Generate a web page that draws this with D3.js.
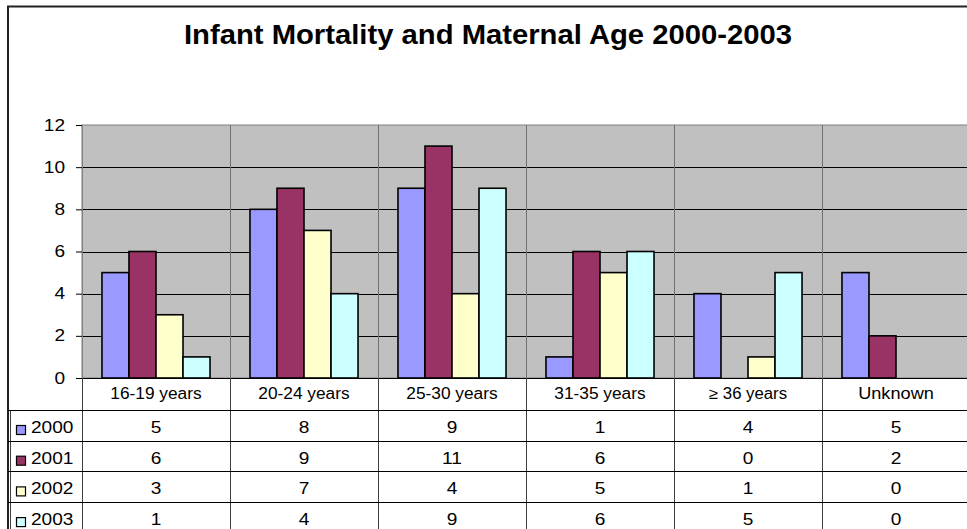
<!DOCTYPE html>
<html>
<head>
<meta charset="utf-8">
<script src="https://cdn.jsdelivr.net/npm/d3@7"></script>
<style>
  html, body { margin: 0; padding: 0; background: #fff; }
  svg { display: block; font-family: "Liberation Sans", Arial, sans-serif; }
</style>
</head>
<body>
<svg id="chart" width="967" height="529"></svg>
<script>
const title = "Infant Mortality and Maternal Age 2000-2003";
const categories = ["16-19 years", "20-24 years", "25-30 years", "31-35 years", "\u2265 36 years", "Unknown"];
const seriesNames = ["2000", "2001", "2002", "2003"];
const values2000 = [5, 8, 9, 1, 4, 5];
const values2001 = [6, 9, 11, 6, 0, 2];
const values2002 = [3, 7, 4, 5, 1, 0];
const values2003 = [1, 4, 9, 6, 5, 0];
const yTicks = [0, 2, 4, 6, 8, 10, 12];
const colors = ["#9999FF", "#993366", "#FFFFCC", "#CCFFFF"];

const seriesValues = [values2000, values2001, values2002, values2003];

const svg = d3.select("#chart");
const W = 967, H = 529;

// layout
const plotLeft = 82, plotRight = 970, plotTop = 125, plotBottom = 378;
const labelRowBottom = 410, rowH = 30.7;

// widen digits to mimic the reference's broader numerals
function widen(sel) {
  sel.each(function () {
    const t = this.textContent;
    const n = (t.match(/[0-9]/g) || []).length;
    let extra = n * 1.7;
    if (t === "Unknown") extra = 9;
    if (!extra) return;
    const L = this.getComputedTextLength();
    this.setAttribute("textLength", L + extra);
    this.setAttribute("lengthAdjust", "spacingAndGlyphs");
  });
}

svg.append("rect").attr("x", 0).attr("y", 0).attr("width", W).attr("height", H).attr("fill", "#fff");

// outer chart border
svg.append("rect")
  .attr("x", 8).attr("y", 6.5).attr("width", 980).attr("height", 560)
  .attr("fill", "none").attr("stroke", "#222").attr("stroke-width", 2);

// title
svg.append("text")
  .attr("x", 488).attr("y", 44)
  .attr("text-anchor", "middle")
  .attr("font-size", 28).attr("font-weight", "bold")
  .attr("textLength", 608).attr("lengthAdjust", "spacingAndGlyphs")
  .text(title);

const x0 = d3.scaleBand().domain(categories).range([plotLeft, plotRight]).padding(0);
const bw = x0.bandwidth();
const x1 = d3.scaleBand().domain(seriesNames).range([bw * 0.135, bw * 0.865]).padding(0);
const y = d3.scaleLinear().domain([0, 12]).range([plotBottom, plotTop]);

// plot background
svg.append("rect")
  .attr("x", plotLeft).attr("y", plotTop)
  .attr("width", plotRight - plotLeft).attr("height", plotBottom - plotTop)
  .attr("fill", "#C0C0C0").attr("stroke", "#808080").attr("stroke-width", 1);

// horizontal gridlines
svg.append("g").selectAll("line")
  .data(yTicks.filter(d => d > 0 && d < 12))
  .join("line")
  .attr("x1", plotLeft).attr("x2", plotRight)
  .attr("y1", d => Math.round(y(d)) + 0.5).attr("y2", d => Math.round(y(d)) + 0.5)
  .attr("stroke", "#000").attr("stroke-width", 1);

// vertical category dividers in plot
svg.append("g").selectAll("line")
  .data(categories.slice(1))
  .join("line")
  .attr("x1", d => Math.round(x0(d)) + 0.5).attr("x2", d => Math.round(x0(d)) + 0.5)
  .attr("y1", plotTop).attr("y2", plotBottom)
  .attr("stroke", "#707070").attr("stroke-width", 1);

// y axis
const yAxis = d3.axisLeft(y).tickValues(yTicks).tickSize(6).tickPadding(11).tickFormat(d3.format("d"));
const yg = svg.append("g").attr("transform", `translate(${plotLeft},0)`).call(yAxis);
yg.select(".domain").attr("stroke", "#808080");
yg.selectAll(".tick line").attr("stroke", "#000");
yg.selectAll(".tick text").attr("font-size", 16).attr("fill", "#000")
  .attr("font-family", "'Liberation Sans', Arial, sans-serif")
  .call(widen);

// bars
const groups = svg.append("g").selectAll("g")
  .data(categories)
  .join("g")
  .attr("transform", d => `translate(${x0(d)},0)`);

groups.selectAll("rect")
  .data((c, ci) => seriesNames.map((s, si) => ({ s, si, v: seriesValues[si][ci] })))
  .join("rect")
  .attr("x", d => x1(d.s))
  .attr("y", d => y(d.v))
  .attr("width", x1.bandwidth())
  .attr("height", d => y(0) - y(d.v))
  .attr("fill", d => colors[d.si])
  .attr("stroke", "#000").attr("stroke-width", 1.6);

// zero axis line
svg.append("line")
  .attr("x1", plotLeft - 6).attr("x2", plotRight)
  .attr("y1", plotBottom + 0.5).attr("y2", plotBottom + 0.5)
  .attr("stroke", "#000").attr("stroke-width", 1);

// data table
const table = svg.append("g");
table.selectAll("line.v")
  .data(categories)
  .join("line").attr("class", "v")
  .attr("x1", d => Math.round(x0(d)) + 0.5).attr("x2", d => Math.round(x0(d)) + 0.5)
  .attr("y1", plotBottom).attr("y2", H)
  .attr("stroke", "#404040").attr("stroke-width", 1);
table.append("line")
  .attr("x1", 10.5).attr("x2", 10.5).attr("y1", labelRowBottom).attr("y2", H)
  .attr("stroke", "#404040").attr("stroke-width", 1);
const rowTops = seriesNames.map((s, i) => labelRowBottom + i * rowH);
table.selectAll("line.h")
  .data(rowTops)
  .join("line").attr("class", "h")
  .attr("x1", 8).attr("x2", plotRight)
  .attr("y1", d => Math.round(d) + 0.5).attr("y2", d => Math.round(d) + 0.5)
  .attr("stroke", "#000").attr("stroke-width", 1);

// category labels
table.selectAll("text.cat")
  .data(categories)
  .join("text").attr("class", "cat")
  .attr("x", d => x0(d) + bw / 2)
  .attr("y", plotBottom + 21)
  .attr("text-anchor", "middle").attr("font-size", 16)
  .text(d => d)
  .call(widen);

// rows
seriesNames.forEach((s, si) => {
  const top = rowTops[si];
  table.append("rect")
    .attr("x", 16.5).attr("y", top + 15.5).attr("width", 9).attr("height", 9)
    .attr("fill", colors[si]).attr("stroke", "#000").attr("stroke-width", 1.2);
  table.append("text")
    .attr("x", 31).attr("y", top + 23)
    .attr("font-size", 16).text(s)
    .call(widen);
  table.selectAll(null)
    .data(categories)
    .join("text")
    .attr("x", d => x0(d) + bw / 2)
    .attr("y", top + 23)
    .attr("text-anchor", "middle").attr("font-size", 16)
    .text((d, ci) => seriesValues[si][ci])
    .call(widen);
});
</script>
</body>
</html>
